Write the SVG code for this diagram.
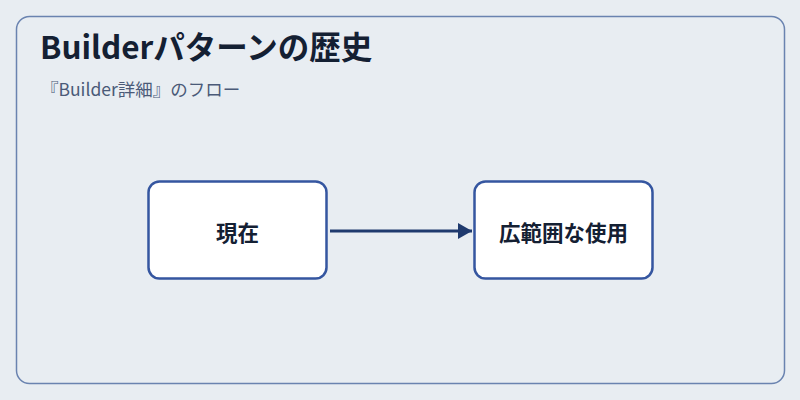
<svg xmlns="http://www.w3.org/2000/svg" width="800" height="400" viewBox="0 0 800 400">
<defs>
<style>
.frame{fill:#e8edf2;stroke:#6a83b0;stroke-width:1.5}
.node rect{fill:#ffffff;stroke:#3556a0;stroke-width:2.5}
.node text{font-family:"Noto Sans CJK JP","Noto Sans",sans-serif;font-size:21.5px;font-weight:bold;fill:#142033;text-anchor:middle;dominant-baseline:central}
.title{font-family:"Noto Sans CJK JP","Noto Sans",sans-serif;font-size:31.5px;font-weight:bold;fill:#142033}
.sub{font-family:"Noto Sans CJK JP","Noto Sans",sans-serif;font-size:17.5px;fill:#4a5a78}
.edge{stroke:#1f3a6e;stroke-width:3;fill:none}
</style>
<marker id="arr" viewBox="0 0 14 16" refX="14" refY="8" markerWidth="14" markerHeight="16" markerUnits="userSpaceOnUse" orient="auto">
<path d="M0,0 L14,8 L0,16 z" fill="#1f3a6e"/>
</marker>
</defs>
<rect width="800" height="400" fill="#e8edf2"/>
<rect class="frame" x="16.5" y="16.5" width="768" height="367" rx="13"/>
<text class="title" x="40" y="59">Builderパターンの歴史</text>
<text class="sub" x="41" y="96">『Builder詳細』のフロー</text>
<g id="connectors">
<path class="edge" d="M330,231 L472,231" marker-end="url(#arr)"/>
</g>
<g id="n1" class="node">
<rect x="148.5" y="181.5" width="178" height="97" rx="11"/>
<text x="237.5" y="231">現在</text>
</g>
<g id="n2" class="node">
<rect x="474.5" y="181.5" width="178" height="97" rx="11"/>
<text x="563.5" y="231">広範囲な使用</text>
</g>
</svg>
